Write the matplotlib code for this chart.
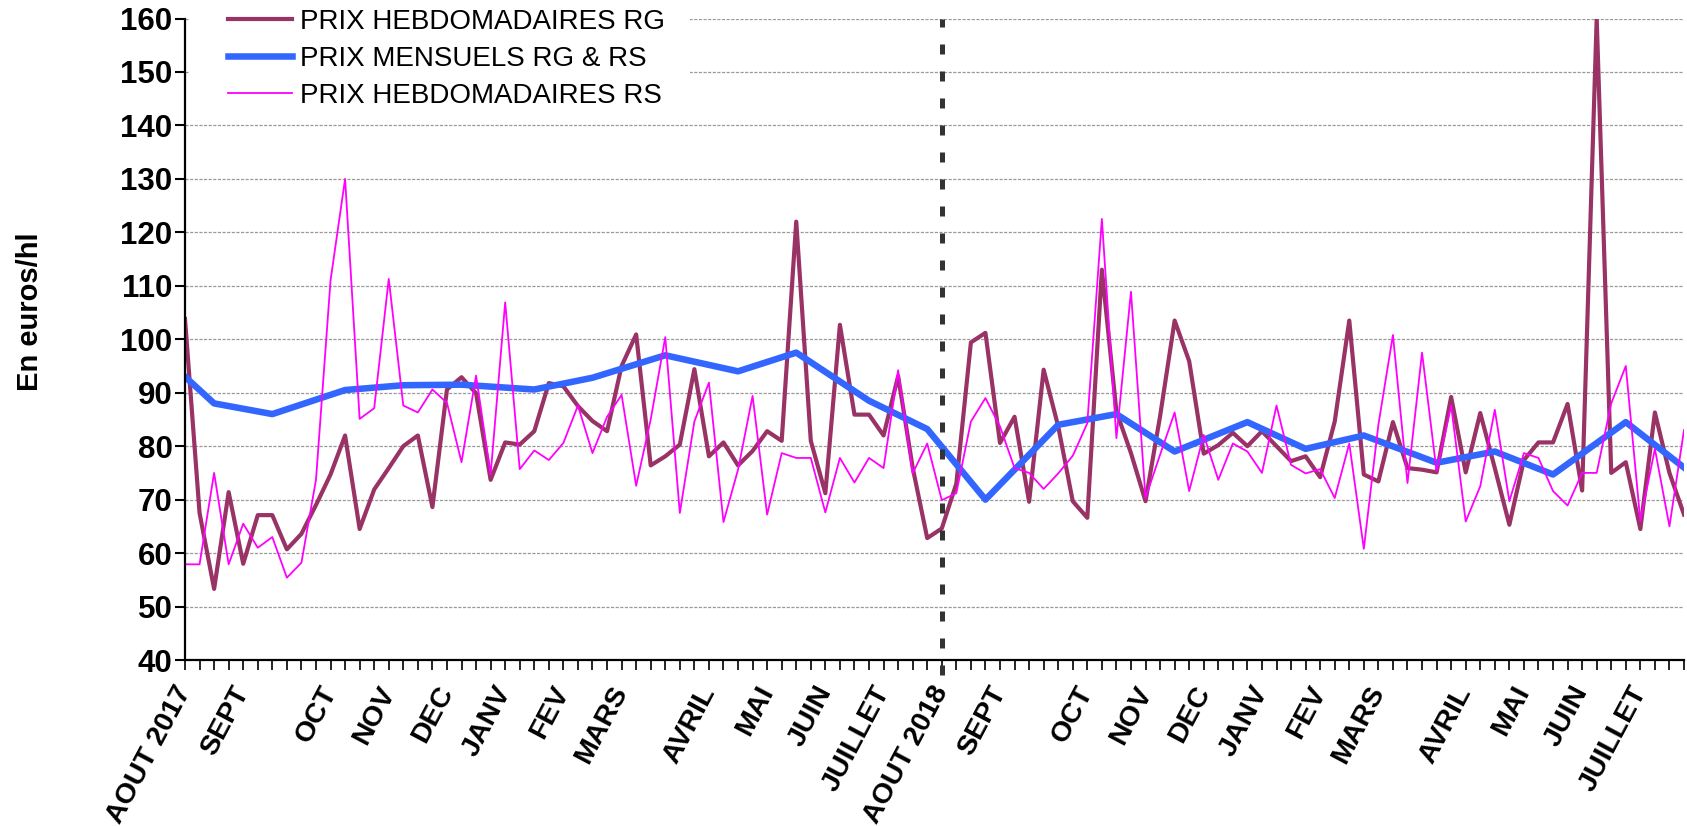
import matplotlib
matplotlib.use('Agg')
import matplotlib.pyplot as plt
from matplotlib.patches import Rectangle
import numpy as np

plt.rcParams['font.family'] = ['Liberation Sans', 'DejaVu Sans']

# prix hebdomadaires RG, 104 semaines (aout 2017 -> juillet 2019)
prix_rg = [103.8, 67.5, 53.3, 71.4, 58.0, 67.1, 67.1, 60.7, 63.6, 69.0,
           74.7, 82.0, 64.5, 71.9, 75.9, 80.0, 82.0, 68.6, 90.6, 92.9,
           89.9, 73.7, 80.7, 80.3, 82.8, 91.8, 91.2, 87.5, 84.7, 82.8,
           95.0, 100.9, 76.4, 78.1, 80.3, 94.4, 78.1, 80.7, 76.4, 79.1,
           82.8, 81.0, 122.0, 81.0, 71.2, 102.7, 85.9, 85.9, 82.0, 93.1,
           76.0, 62.8, 64.6, 73.0, 99.4, 101.2, 80.6, 85.5, 69.6, 94.3,
           83.7, 69.7, 66.6, 113.0, 86.5, 78.7, 69.7, 85.6, 103.5, 95.9,
           78.6, 80.2, 82.5, 80.0, 82.8, 80.0, 77.2, 78.1, 74.2, 84.6,
           103.5, 74.7, 73.4, 84.5, 75.9, 75.6, 75.1, 89.2, 75.1, 86.2,
           75.9, 65.3, 77.4, 80.7, 80.7, 87.9, 71.7, 160.0, 75.0, 77.0,
           64.5, 86.3, 75.0, 67.2]

# prix hebdomadaires RS
prix_rs = [57.9, 57.9, 75.0, 57.9, 65.5, 61.0, 63.0, 55.4, 58.2, 73.7,
           111.0, 130.0, 85.1, 87.1, 111.3, 87.6, 86.3, 90.6, 88.1, 77.0,
           93.2, 74.7, 106.9, 75.7, 79.2, 77.4, 80.6, 87.6, 78.7, 85.5,
           89.6, 72.6, 85.0, 100.4, 67.5, 84.6, 91.9, 65.8, 75.6, 89.4,
           67.2, 78.7, 77.8, 77.8, 67.6, 77.8, 73.2, 77.8, 75.9, 94.2,
           74.9, 80.5, 69.9, 71.2, 84.6, 89.0, 83.7, 75.9, 75.0, 72.0,
           74.9, 78.2, 84.3, 122.5, 81.5, 108.9, 70.3, 78.4, 86.3, 71.6,
           82.1, 73.7, 80.5, 79.0, 75.0, 87.6, 76.5, 74.9, 75.7, 70.3,
           80.5, 60.8, 84.0, 100.8, 73.1, 97.5, 75.3, 87.6, 65.9, 72.5,
           86.8, 69.7, 78.7, 77.8, 71.6, 68.9, 75.0, 75.0, 88.0, 95.0,
           66.0, 79.5, 65.0, 83.0]

# prix mensuels RG & RS : semaine de reference et prix
mensuel_semaine = [0, 2, 6, 11, 15, 19, 24, 28, 33, 38, 42, 47,
                   51, 55, 60, 64, 68, 73, 77, 81, 86, 90, 94, 99, 103]
mensuel_prix = [93.0, 88.0, 86.0, 90.5, 91.4, 91.5, 90.6, 92.8, 97.0, 94.0, 97.5, 88.5,
                83.2, 70.0, 84.0, 86.0, 79.0, 84.5, 79.5, 82.0, 76.9, 79.0, 74.7, 84.5, 76.0]

# etiquettes des mois
mois_semaine = [0, 4, 10, 14, 18, 22, 26, 30, 36, 40, 44, 48,
                52, 56, 62, 66, 70, 74, 78, 82, 88, 92, 96, 100]
mois_noms = ['AOUT 2017', 'SEPT', 'OCT', 'NOV', 'DEC', 'JANV', 'FEV', 'MARS',
             'AVRIL', 'MAI', 'JUIN', 'JUILLET',
             'AOUT 2018', 'SEPT', 'OCT', 'NOV', 'DEC', 'JANV', 'FEV', 'MARS',
             'AVRIL', 'MAI', 'JUIN', 'JUILLET']
separation = 52

W, H = 1687, 826
fig = plt.figure(figsize=(W/100, H/100), dpi=100)
ax = fig.add_axes([185/W, 1-660/H, (1684-185)/W, (660-18.5)/H])
ax.set_axisbelow(True)

x = np.arange(len(prix_rg))
ax.plot(x, prix_rg, color='#993366', lw=3, label='PRIX HEBDOMADAIRES RG', zorder=3)
ax.plot(mensuel_semaine, mensuel_prix, color='#3366FF', lw=4.7,
        label='PRIX MENSUELS RG & RS', zorder=4)
ax.plot(x, prix_rs, color='#FF00FF', lw=1.3, label='PRIX HEBDOMADAIRES RS', zorder=5)

ax.axvline(separation, ymin=-0.024, ymax=1, color='#333333', lw=3.6,
           ls=(0, (2, 3.4)), clip_on=False, zorder=6)

ax.set_xlim(0, len(prix_rg)-1)
ax.set_ylim(40, 160)
ax.set_yticks(range(40, 161, 10))
ax.grid(axis='y', color='#999999', ls=(0, (2.5, 1.2)), lw=0.9)

labels = [''] * len(x)
for s, m in zip(mois_semaine, mois_noms):
    labels[s] = m
ax.set_xticks(x)
ax.set_xticklabels(labels, rotation=62, ha='right', va='center',
                   rotation_mode='anchor', fontsize=20.5, fontweight='bold')
for t in ax.get_yticklabels():
    t.set_fontsize(22.5)
    t.set_fontweight('bold')

ax.tick_params(axis='x', direction='out', length=7, width=1.2, pad=13)
ax.tick_params(axis='y', direction='out', length=7, width=1.5, pad=2)
for sp in ['top', 'right']:
    ax.spines[sp].set_visible(False)
for sp in ['left', 'bottom']:
    ax.spines[sp].set_linewidth(1.6)
    ax.spines[sp].set_zorder(7)

# fond blanc de la legende
ax.add_patch(Rectangle((190/W, 1-114/H), 500/W, 114/H, transform=fig.transFigure,
                       facecolor='white', edgecolor='none', zorder=1, clip_on=False))
leg = ax.legend(loc='upper left', bbox_to_anchor=(228/W, 1-9/H), bbox_transform=fig.transFigure,
                frameon=False, fontsize=20, handlelength=2.3, handletextpad=0.3,
                borderpad=0, borderaxespad=0, labelspacing=0.4)
leg.set_zorder(8)

fig.text(30/W, 1-312/H, 'En euros/hl', rotation=90, fontsize=21, fontweight='bold',
         family=['Liberation Sans Narrow', 'Liberation Sans'], ha='center', va='center')

fig.savefig('out.png', dpi=100)
